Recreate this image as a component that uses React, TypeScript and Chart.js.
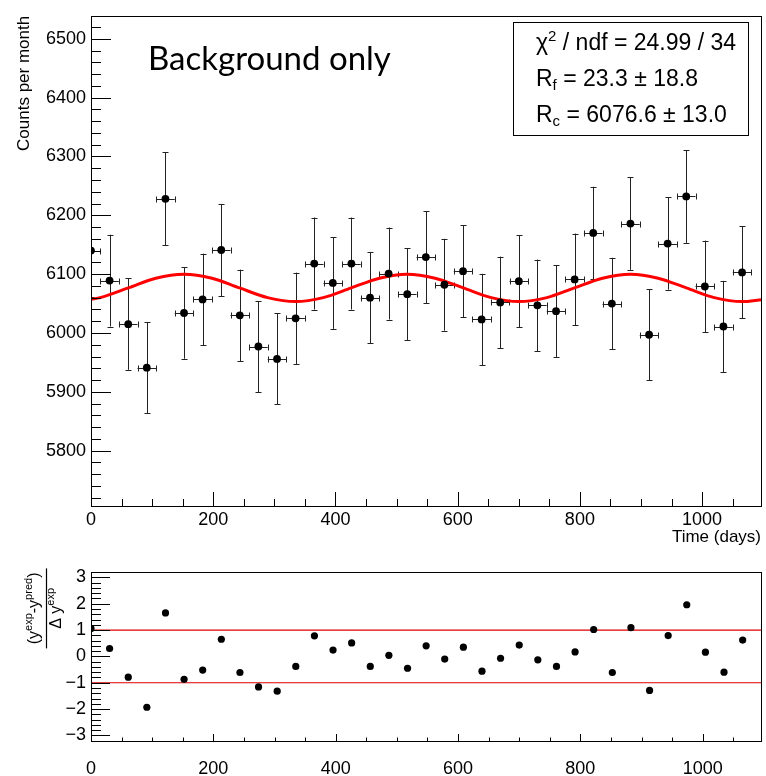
import React, { useEffect, useRef } from 'react';
import { Chart, registerables } from 'chart.js';
Chart.register(...registerables);

// ---------- data ----------
const days = [0, 30.4, 60.9, 91.3, 121.8, 152.2, 182.6, 213.1, 243.5, 273.9, 304.4, 334.8,
  365.3, 395.7, 426.1, 456.6, 487.0, 517.5, 547.9, 578.3, 608.8, 639.2, 669.6, 700.1,
  730.5, 761.0, 791.4, 821.8, 852.3, 882.7, 913.2, 943.6, 974.0, 1004.5, 1034.9, 1065.4];
const counts = [6140, 6089, 6015, 5941, 6228, 6034, 6057, 6141, 6030, 5977, 5956, 6025,
  6118, 6085, 6118, 6060, 6101, 6066, 6129, 6082, 6105, 6023, 6052, 6088,
  6047, 6037, 6091, 6170, 6050, 6186, 5997, 6152, 6232, 6079, 6011, 6103];
const countErrors = [78.4, 78.0, 77.6, 77.1, 78.9, 77.7, 77.8, 78.4, 77.7, 77.3, 77.2, 77.6,
  78.2, 78.0, 78.2, 77.8, 78.1, 77.9, 78.3, 78.0, 78.1, 77.6, 77.8, 78.0,
  77.8, 77.7, 78.0, 78.5, 77.8, 78.7, 77.4, 78.4, 78.9, 78.0, 77.5, 78.1];
const dayHalfWidth = 15.2;
const residuals = [1.06, 0.30, -0.79, -1.93, 1.65, -0.87, -0.52, 0.65, -0.61, -1.16, -1.32, -0.38,
  0.78, 0.24, 0.51, -0.38, 0.04, -0.45, 0.40, -0.10, 0.35, -0.56, -0.07, 0.43,
  -0.13, -0.38, 0.17, 1.02, -0.61, 1.09, -1.29, 0.79, 1.96, 0.16, -0.60, 0.62];
const fitDays = [0, 15, 61, 106, 152, 198, 243, 289, 335, 380, 426, 472, 517, 563, 609, 655,
  700, 746, 791, 837, 883, 928, 974, 1020, 1065, 1098];
const fitCounts = [6057, 6060.1, 6076.6, 6093.1, 6099.9, 6093.1, 6076.6, 6060.1, 6053.3, 6060.1,
  6076.6, 6093.1, 6099.9, 6093.1, 6076.6, 6060.1, 6053.3, 6060.1, 6076.6, 6093.1, 6099.9,
  6093.1, 6076.6, 6060.1, 6053.3, 6056.7];
const bandLines = [1, -1];
const statLines = [
  [{ t: 'χ', s: 23 }, { t: '2', s: 15, dy: -9 }, { t: ' / ndf = 24.99 / 34', s: 23 }],
  [{ t: 'R', s: 23 }, { t: 'f', s: 15, dy: 4 }, { t: ' = 23.3 ± 18.8', s: 23 }],
  [{ t: 'R', s: 23 }, { t: 'c', s: 15, dy: 4 }, { t: ' = 6076.6 ± 13.0', s: 23 }],
];
const mainTitle = 'Background only';
const yTitle = 'Counts per month';
const xTitle = 'Time (days)';

const FAM = '"Liberation Sans", Arial, Helvetica, sans-serif';

type Seg = { t: string; s: number; dy?: number };
function richWidth(ctx: CanvasRenderingContext2D, segs: Seg[]) {
  let w = 0;
  for (const g of segs) { ctx.font = `${g.s}px ${FAM}`; w += ctx.measureText(g.t).width; }
  return w;
}
function drawRich(ctx: CanvasRenderingContext2D, segs: Seg[], x: number, y: number, center = false) {
  let cx = center ? x - richWidth(ctx, segs) / 2 : x;
  ctx.textAlign = 'left';
  ctx.textBaseline = 'alphabetic';
  for (const g of segs) {
    ctx.font = `${g.s}px ${FAM}`;
    ctx.fillText(g.t, cx, y + (g.dy || 0));
    cx += ctx.measureText(g.t).width;
  }
}

function drawInnerTicks(ctx: CanvasRenderingContext2D, scale: any, area: any, axis: 'x' | 'y',
  minor: number, ratio: number, majLen: number, minLen: number) {
  const k0 = Math.ceil(scale.min / minor - 1e-9);
  const k1 = Math.floor(scale.max / minor + 1e-9);
  ctx.save();
  ctx.strokeStyle = '#000';
  ctx.lineWidth = 1;
  ctx.beginPath();
  for (let k = k0; k <= k1; k++) {
    const v = k * minor;
    const len = k % ratio === 0 ? majLen : minLen;
    const p = Math.round(scale.getPixelForValue(v)) + 0.5;
    if (axis === 'y') {
      ctx.moveTo(area.left, p); ctx.lineTo(area.left + len, p);
    } else {
      ctx.moveTo(p, area.bottom); ctx.lineTo(p, area.bottom - len);
    }
  }
  ctx.stroke();
  ctx.restore();
}

function drawFrame(ctx: CanvasRenderingContext2D, area: any) {
  ctx.save();
  ctx.strokeStyle = '#000';
  ctx.lineWidth = 1;
  ctx.strokeRect(Math.round(area.left) + 0.5, Math.round(area.top) + 0.5,
    Math.round(area.right - area.left) - 1, Math.round(area.bottom - area.top));
  ctx.restore();
}

const plainFmt = (v: any) => String(Number(v));
const minusFmt = (v: any) => (Number(v) < 0 ? '\u2212' + Math.abs(Number(v)) : String(Number(v)));

export default function App() {
  const topRef = useRef<HTMLCanvasElement>(null);
  const botRef = useRef<HTMLCanvasElement>(null);

  useEffect(() => {
    const errorBars = {
      id: 'errorBars',
      beforeDatasetsDraw(chart: any) {
        const { ctx, chartArea: a, scales } = chart;
        const xs = scales.x, ys = scales.y;
        ctx.save();
        ctx.beginPath();
        ctx.rect(a.left, a.top, a.right - a.left, a.bottom - a.top);
        ctx.clip();
        ctx.strokeStyle = '#222';
        ctx.lineWidth = 1;
        ctx.beginPath();
        for (let i = 0; i < days.length; i++) {
          const px = Math.round(xs.getPixelForValue(days[i])) + 0.5;
          const py = Math.round(ys.getPixelForValue(counts[i])) + 0.5;
          const t = ys.getPixelForValue(counts[i] + countErrors[i]);
          const b = ys.getPixelForValue(counts[i] - countErrors[i]);
          const l = xs.getPixelForValue(days[i] - dayHalfWidth);
          const r = xs.getPixelForValue(days[i] + dayHalfWidth);
          ctx.moveTo(px, t); ctx.lineTo(px, b);
          ctx.moveTo(px - 3, Math.round(t) + 0.5); ctx.lineTo(px + 3, Math.round(t) + 0.5);
          ctx.moveTo(px - 3, Math.round(b) + 0.5); ctx.lineTo(px + 3, Math.round(b) + 0.5);
          ctx.moveTo(l, py); ctx.lineTo(r, py);
          ctx.moveTo(Math.round(l) + 0.5, py - 3); ctx.lineTo(Math.round(l) + 0.5, py + 3);
          ctx.moveTo(Math.round(r) + 0.5, py - 3); ctx.lineTo(Math.round(r) + 0.5, py + 3);
        }
        ctx.stroke();
        ctx.restore();
      },
      afterDraw(chart: any) {
        const { ctx, chartArea: a, scales } = chart;
        drawInnerTicks(ctx, scales.y, a, 'y', 20, 5, 20, 10);
        drawInnerTicks(ctx, scales.x, a, 'x', 50, 4, 14, 7);
        drawFrame(ctx, a);
        ctx.save();
        ctx.fillStyle = '#000';
        // main title
        ctx.font = `33px Lato, "Open Sans", sans-serif`;
        ctx.textAlign = 'left';
        ctx.textBaseline = 'alphabetic';
        ctx.fillText(mainTitle, 148, 70);
        // stats box
        ctx.fillStyle = '#fff';
        ctx.fillRect(513.5, 22.5, 235, 113);
        ctx.strokeStyle = '#000';
        ctx.lineWidth = 1;
        ctx.strokeRect(513.5, 22.5, 235, 113);
        ctx.fillStyle = '#000';
        const baselines = [49.5, 85.5, 122];
        statLines.forEach((ln, i) => drawRich(ctx, ln as Seg[], 536, baselines[i]));
        // axis titles
        ctx.font = `17px ${FAM}`;
        ctx.textAlign = 'right';
        ctx.textBaseline = 'alphabetic';
        ctx.fillText(xTitle, 761, 542);
        ctx.translate(29, a.top);
        ctx.rotate(-Math.PI / 2);
        ctx.textAlign = 'right';
        ctx.fillText(yTitle, 0, 0);
        ctx.restore();
      },
    };

    const top = new Chart(topRef.current!, {
      type: 'scatter',
      data: {
        datasets: [
          {
            type: 'line',
            data: fitDays.map((d, i) => ({ x: d, y: fitCounts[i] })),
            borderColor: '#ff0000',
            borderWidth: 3,
            pointRadius: 0,
            cubicInterpolationMode: 'monotone',
            fill: false,
            order: 2,
          } as any,
          {
            data: days.map((d, i) => ({ x: d, y: counts[i] })),
            backgroundColor: '#000',
            borderColor: '#000',
            borderWidth: 0,
            pointRadius: 3.9,
            order: 1,
          },
        ],
      },
      options: {
        animation: false,
        responsive: false,
        maintainAspectRatio: false,
        layout: { padding: { left: 0, right: 3, top: 10, bottom: 0 } },
        plugins: { legend: { display: false }, tooltip: { enabled: false } },
        scales: {
          x: {
            type: 'linear', min: 0, max: 1098,
            grid: { display: false, drawTicks: false },
            border: { display: false },
            ticks: { stepSize: 200, includeBounds: false, padding: 3, color: '#000', font: { family: FAM, size: 18 }, maxRotation: 0, callback: plainFmt },
            afterFit: (s: any) => { s.height = 50; },
          },
          y: {
            type: 'linear', min: 5706, max: 6539,
            grid: { display: false, drawTicks: false },
            border: { display: false },
            ticks: { stepSize: 100, includeBounds: false, padding: 5, color: '#000', font: { family: FAM, size: 18 }, callback: plainFmt },
            afterFit: (s: any) => { s.width = 91; },
          },
        },
      },
      plugins: [errorBars],
    } as any);

    const resid = {
      id: 'resid',
      beforeDatasetsDraw(chart: any) {
        const { ctx, chartArea: a, scales } = chart;
        ctx.save();
        ctx.strokeStyle = '#e00000';
        ctx.lineWidth = 1.2;
        ctx.beginPath();
        for (const v of bandLines) {
          const p = scales.y.getPixelForValue(v);
          ctx.moveTo(a.left, p); ctx.lineTo(a.right, p);
        }
        ctx.stroke();
        ctx.restore();
      },
      afterDraw(chart: any) {
        const { ctx, chartArea: a, scales } = chart;
        drawInnerTicks(ctx, scales.y, a, 'y', 0.2, 5, 19, 10);
        drawInnerTicks(ctx, scales.x, a, 'x', 50, 4, 7, 3.5);
        drawFrame(ctx, a);
        ctx.save();
        ctx.fillStyle = '#000';
        const cy = (a.top + a.bottom) / 2 - 48;
        ctx.translate(0, cy);
        ctx.rotate(-Math.PI / 2);
        const num: Seg[] = [
          { t: '(y', s: 16 }, { t: 'exp', s: 11, dy: -7 }, { t: '-y', s: 16 },
          { t: 'pred', s: 11, dy: -7 }, { t: ')', s: 16 },
        ];
        const den: Seg[] = [{ t: 'Δ y', s: 16 }, { t: 'exp', s: 11, dy: -7 }];
        drawRich(ctx, num, 0, 39, true);
        drawRich(ctx, den, 0, 61, true);
        ctx.strokeStyle = '#000';
        ctx.lineWidth = 1.2;
        ctx.beginPath();
        ctx.moveTo(-40, 46.5); ctx.lineTo(40, 46.5);
        ctx.stroke();
        ctx.restore();
      },
    };

    const bot = new Chart(botRef.current!, {
      type: 'scatter',
      data: {
        datasets: [
          {
            data: days.map((d, i) => ({ x: d, y: residuals[i] })),
            backgroundColor: '#000',
            borderColor: '#000',
            borderWidth: 0,
            pointRadius: 3.6,
          },
        ],
      },
      options: {
        animation: false,
        responsive: false,
        maintainAspectRatio: false,
        layout: { padding: { left: 0, right: 4, top: 9, bottom: 0 } },
        plugins: { legend: { display: false }, tooltip: { enabled: false } },
        scales: {
          x: {
            type: 'linear', min: 0, max: 1097,
            grid: { display: false, drawTicks: false },
            border: { display: false },
            ticks: { stepSize: 200, includeBounds: false, padding: 17, color: '#000', font: { family: FAM, size: 18 }, maxRotation: 0, callback: plainFmt },
            afterFit: (s: any) => { s.height = 35; },
          },
          y: {
            type: 'linear', min: -3.21, max: 3.21,
            grid: { display: false, drawTicks: false },
            border: { display: false },
            ticks: { stepSize: 1, includeBounds: false, padding: 5, color: '#000', font: { family: FAM, size: 18 }, callback: minusFmt },
            afterFit: (s: any) => { s.width = 91; },
          },
        },
      },
      plugins: [resid],
    } as any);

    return () => { top.destroy(); bot.destroy(); };
  }, []);

  return (
    <div style={{ position: 'absolute', left: 0, top: 0, width: 766, height: 776, background: '#fff' }}>
      <canvas ref={topRef} width={766} height={556} style={{ position: 'absolute', left: 0, top: 0, width: 766, height: 556 }} />
      <canvas ref={botRef} width={766} height={220} style={{ position: 'absolute', left: 0, top: 556, width: 766, height: 220 }} />
    </div>
  );
}
